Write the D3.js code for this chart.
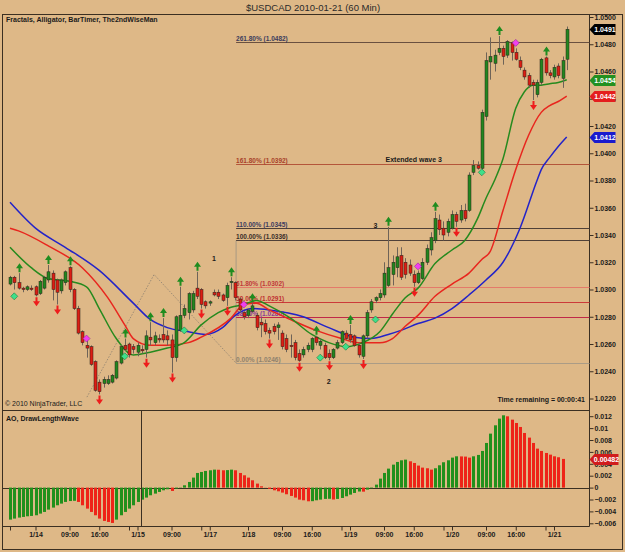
<!DOCTYPE html>
<html lang="en">
<head>
<meta charset="utf-8"/>
<title>$USDCAD 2010-01-21 (60 Min)</title>
<script src="https://cdnjs.cloudflare.com/ajax/libs/d3/7.8.5/d3.min.js"></script>
<style>
  body { margin: 0; background: #deb887; }
  svg { display: block; font-family: "Liberation Sans", Arial, sans-serif; }
  .ax text { font-size: 7px; font-weight: bold; fill: #1a1a1a; }
  .ax line { stroke: #3b2f22; }
  .lbl { font-size: 7px; font-weight: bold; fill: #1a1a1a; }
</style>
</head>
<body>
<svg id="chart" width="625" height="552"></svg>
<script>
// ---- price bars (60 min), one entry per bar ----
var opens = [1.0304,1.0309,1.0305,1.0301,1.0300,1.0301,1.0302,1.0297,1.0301,1.0307,
  1.0312,1.0307,1.0299,1.0305,1.0316,1.0300,1.0286,1.0269,1.0259,1.0258,
  1.0247,1.0232,1.0231,1.0231,1.0232,1.0235,1.0246,1.0259,1.0260,1.0258,
  1.0254,1.0256,1.0256,1.0265,1.0261,1.0264,1.0267,1.0266,1.0263,1.0250,
  1.0270,1.0281,1.0283,1.0285,1.0301,1.0300,1.0291,1.0290,1.0298,1.0298,
  1.0296,1.0294,1.0305,1.0305,1.0293,1.0283,1.0281,1.0284,1.0281,1.0276,
  1.0275,1.0270,1.0273,1.0272,1.0268,1.0264,1.0259,1.0261,1.0253,1.0252,
  1.0256,1.0256,1.0265,1.0259,1.0259,1.0253,1.0250,1.0257,1.0261,1.0268,
  1.0267,1.0266,1.0259,1.0251,1.0266,1.0285,1.0292,1.0294,1.0296,1.0303,
  1.0311,1.0316,1.0325,1.0320,1.0318,1.0311,1.0305,1.0308,1.0320,1.0329,
  1.0336,1.0351,1.0345,1.0342,1.0345,1.0355,1.0351,1.0358,1.0358,1.0386,
  1.0391,1.0389,1.0427,1.0467,1.0466,1.0474,1.0477,1.0472,1.0481,1.0474,
  1.0468,1.0461,1.0457,1.0452,1.0443,1.0452,1.0470,1.0459,1.0456,1.0464,
  1.0455,1.0469];
var highs = [1.0310,1.0310,1.0312,1.0302,1.0303,1.0303,1.0303,1.0307,1.0310,1.0318,
  1.0314,1.0308,1.0308,1.0314,1.0317,1.0301,1.0288,1.0270,1.0263,1.0259,
  1.0248,1.0234,1.0236,1.0237,1.0238,1.0248,1.0259,1.0264,1.0261,1.0260,
  1.0261,1.0259,1.0270,1.0276,1.0269,1.0267,1.0279,1.0270,1.0267,1.0281,
  1.0302,1.0289,1.0298,1.0299,1.0313,1.0301,1.0292,1.0292,1.0300,1.0300,
  1.0297,1.0305,1.0309,1.0306,1.0294,1.0284,1.0286,1.0290,1.0283,1.0279,
  1.0278,1.0272,1.0275,1.0276,1.0270,1.0267,1.0267,1.0263,1.0256,1.0258,
  1.0261,1.0265,1.0266,1.0264,1.0261,1.0256,1.0257,1.0263,1.0270,1.0270,
  1.0274,1.0267,1.0261,1.0267,1.0285,1.0293,1.0295,1.0300,1.0320,1.0346,
  1.0325,1.0331,1.0331,1.0323,1.0322,1.0314,1.0314,1.0323,1.0333,1.0342,
  1.0357,1.0355,1.0350,1.0352,1.0358,1.0357,1.0362,1.0363,1.0386,1.0395,
  1.0394,1.0432,1.0474,1.0485,1.0476,1.0486,1.0479,1.0483,1.0482,1.0477,
  1.0471,1.0463,1.0459,1.0454,1.0454,1.0470,1.0471,1.0461,1.0465,1.0466,
  1.0471,1.0493];
var lows = [1.0303,1.0300,1.0300,1.0298,1.0299,1.0299,1.0295,1.0296,1.0300,1.0305,
  1.0292,1.0289,1.0297,1.0303,1.0298,1.0285,1.0267,1.0259,1.0250,1.0244,
  1.0225,1.0223,1.0228,1.0230,1.0231,1.0234,1.0245,1.0255,1.0250,1.0253,
  1.0251,1.0253,1.0250,1.0259,1.0259,1.0261,1.0261,1.0259,1.0239,1.0247,
  1.0269,1.0279,1.0278,1.0283,1.0293,1.0286,1.0286,1.0288,1.0295,1.0293,
  1.0291,1.0288,1.0300,1.0292,1.0283,1.0278,1.0279,1.0283,1.0270,1.0265,
  1.0267,1.0264,1.0267,1.0263,1.0256,1.0254,1.0250,1.0248,1.0247,1.0250,
  1.0254,1.0254,1.0259,1.0256,1.0249,1.0248,1.0249,1.0256,1.0260,1.0263,
  1.0261,1.0258,1.0250,1.0249,1.0264,1.0283,1.0290,1.0292,1.0294,1.0302,
  1.0303,1.0309,1.0307,1.0308,1.0310,1.0302,1.0304,1.0307,1.0318,1.0325,
  1.0334,1.0340,1.0336,1.0339,1.0344,1.0346,1.0349,1.0350,1.0357,1.0384,
  1.0388,1.0388,1.0424,1.0454,1.0460,1.0472,1.0465,1.0470,1.0468,1.0468,
  1.0461,1.0454,1.0448,1.0439,1.0441,1.0450,1.0457,1.0455,1.0454,1.0455,
  1.0448,1.0461];
var closes = [1.0309,1.0305,1.0301,1.0300,1.0302,1.0300,1.0296,1.0306,1.0309,1.0313,
  1.0300,1.0298,1.0307,1.0313,1.0300,1.0286,1.0268,1.0261,1.0257,1.0245,
  1.0226,1.0225,1.0234,1.0234,1.0237,1.0247,1.0258,1.0256,1.0252,1.0256,
  1.0259,1.0255,1.0266,1.0263,1.0266,1.0263,1.0263,1.0263,1.0250,1.0280,
  1.0281,1.0286,1.0297,1.0297,1.0295,1.0289,1.0288,1.0291,1.0296,1.0295,
  1.0292,1.0303,1.0306,1.0294,1.0285,1.0280,1.0285,1.0288,1.0272,1.0274,
  1.0269,1.0268,1.0269,1.0274,1.0258,1.0256,1.0258,1.0250,1.0248,1.0256,
  1.0259,1.0264,1.0261,1.0262,1.0250,1.0250,1.0256,1.0261,1.0269,1.0264,
  1.0263,1.0259,1.0252,1.0266,1.0283,1.0291,1.0294,1.0297,1.0312,1.0316,
  1.0320,1.0324,1.0309,1.0311,1.0312,1.0305,1.0312,1.0320,1.0330,1.0338,
  1.0352,1.0344,1.0340,1.0350,1.0355,1.0350,1.0358,1.0352,1.0384,1.0391,
  1.0389,1.0430,1.0468,1.0471,1.0472,1.0477,1.0471,1.0482,1.0474,1.0469,
  1.0463,1.0456,1.0450,1.0450,1.0452,1.0469,1.0459,1.0457,1.0463,1.0457,
  1.0468,1.0491];

// ---- Alligator lines: [bar index, price] ----
var jaw = [[0,1.0364],[6,1.0345],[13,1.0331],[21,1.0314],[29,1.0290],[33,1.0278],[37,1.0272],
  [42,1.0269],[46,1.0267],[50,1.0272],[53,1.0281],[57,1.0286],[61,1.0285],[69,1.0280],
  [75,1.0272],[81,1.0265],[85,1.0264],[89,1.0267],[92,1.0270],[96,1.0275],[100,1.0279],
  [104,1.0286],[108,1.0296],[112,1.0307],[116,1.0320],[120,1.0345],[124,1.0380],
  [125,1.0388],[127,1.0397],[129,1.0405],[131,1.0412]];
var teeth = [[0,1.0345],[2,1.0343],[9,1.0332],[17,1.0316],[23,1.0294],[27,1.0274],[29,1.0264],
  [33,1.0259],[37,1.0259],[42,1.0261],[45,1.0265],[52,1.0279],[55,1.0289],[58,1.0290],
  [61,1.0285],[66,1.0278],[72,1.0270],[78,1.0264],[82,1.0261],[87,1.0261],[90,1.0264],
  [93,1.0273],[96,1.0281],[100,1.0295],[104,1.0304],[108,1.0312],[111,1.0322],
  [113,1.0328],[116,1.0358],[119,1.0388],[122,1.0413],[125,1.0430],[127,1.0435],
  [129,1.0438],[131,1.0442]];
var lips = [[0,1.0331],[5,1.0316],[9,1.0308],[14,1.0306],[18,1.0302],[21,1.0286],[25,1.0264],
  [29,1.0252],[33,1.0254],[37,1.0257],[41,1.0261],[45,1.0274],[49,1.0283],[52,1.0287],
  [55,1.0289],[58,1.0292],[61,1.0288],[66,1.0279],[71,1.0267],[75,1.0261],[79,1.0258],
  [83,1.0261],[87,1.0269],[90,1.0282],[93,1.0294],[96,1.0301],[100,1.0319],[104,1.0329],
  [107,1.0336],[110,1.0352],[112,1.0367],[114,1.0380],[116,1.0396],[119,1.0433],
  [121,1.0445],[123,1.0450],[125,1.0450],[127,1.0451],[129,1.0452],[131,1.0454]];

// ---- Fractals (bar indices) ----
var fractalUp = [2,9,14,27,33,36,40,44,52,57,72,80,89,100,115,126];
var fractalDown = [6,11,21,32,38,45,51,61,68,75,83,95,105,123];

// ---- The 2nd Wise Man markers: [bar index, price] ----
var wiseBull = [[1,1.0295],[27,1.0251],[41,1.0270],[73,1.0250],[79,1.0258],[86,1.0278],[111,1.0386]];
var wiseBear = [[18,1.0264],[55,1.0289],[96,1.0317],[119,1.0481]];

// ---- drawing objects ----
var fibLevels = ['261.80%','161.80%','110.00%','100.00%','61.80%','50.00%','38.20%','0.00%'];
var fibPrices = [1.0482,1.0392,1.0345,1.0336,1.0302,1.0291,1.0280,1.0246];
var zigzag = [[18.1,1.0221],[33.9,1.0311],[53.2,1.0246]];
var waveTexts = ['1','2','3','Extended wave 3'];
var waveIdx = [48,75,86,95];
var wavePrice = [1.0323,1.0233,1.0347,1.0396];

// ---- AO histogram ----
var ao = [-0.00538,-0.00521,-0.00504,-0.00493,-0.00482,-0.00476,-0.00465,-0.00437,-0.00409,-0.00370,
  -0.00336,-0.00297,-0.00269,-0.00241,-0.00226,-0.00222,-0.00241,-0.00297,-0.00353,-0.00409,
  -0.00465,-0.00521,-0.00560,-0.00577,-0.00594,-0.00538,-0.00465,-0.00409,-0.00353,-0.00297,
  -0.00241,-0.00202,-0.00168,-0.00129,-0.00101,-0.00073,-0.00045,-0.00028,-0.00056,-0.00017,
  -0.00005,0.00039,0.00095,0.00168,0.00246,0.00263,0.00280,0.00291,0.00302,0.00300,
  0.00291,0.00294,0.00302,0.00291,0.00246,0.00207,0.00168,0.00123,0.00067,0.00022,
  -0.00003,-0.00022,-0.00045,-0.00062,-0.00084,-0.00112,-0.00140,-0.00168,-0.00202,-0.00213,
  -0.00230,-0.00228,-0.00213,-0.00202,-0.00190,-0.00188,-0.00200,-0.00190,-0.00174,-0.00146,
  -0.00118,-0.00090,-0.00066,-0.00068,-0.00034,-0.00011,0.00050,0.00151,0.00246,0.00319,
  0.00386,0.00431,0.00459,0.00470,0.00442,0.00414,0.00370,0.00336,0.00325,0.00302,
  0.00325,0.00375,0.00426,0.00459,0.00504,0.00526,0.00524,0.00521,0.00504,0.00526,
  0.00549,0.00616,0.00750,0.00907,0.01047,0.01159,0.01215,0.01198,0.01142,0.01086,
  0.01019,0.00918,0.00840,0.00750,0.00655,0.00616,0.00582,0.00554,0.00526,0.00510,
  0.00482];

// ---- axes ----
var priceTicks = [1.0220,1.0240,1.0260,1.0280,1.0300,1.0320,1.0340,1.0360,1.0380,1.0400,1.0420,1.0440,1.0460,1.0480,1.0500];
var aoTicks = [0.012,0.01,0.008,0.006,0.004,0.002,0,-0.002,-0.004,-0.006];
var timeTickIdx = [0,6,14,21,28,30,38,45,47,56,64,71,78,80,88,95,102,104,112,119,126,128];
var timeTickLabels = ['','1/14','09:00','16:00','','1/15','09:00','','1/17','1/18','09:00','16:00','','1/19','09:00','16:00','','1/20','09:00','16:00','','1/21'];

var svg = d3.select('#chart');
var frame = '#3b2f22';
var axisX = 589.5;

var x = d3.scaleLinear().domain([0, 131]).range([10, 566.75]);
var yP = d3.scaleLinear().domain([1.0220, 1.0500]).range([398.5, 17]);
var yA = d3.scaleLinear().domain([-0.006, 0.012]).range([523.3, 416.2]);

svg.append('rect').attr('width', 625).attr('height', 552).attr('fill', '#deb887');

svg.append('text').attr('x', 313).attr('y', 11).attr('text-anchor', 'middle')
  .style('font-size', '9.5px').style('fill', '#2a2a2a').text('$USDCAD  2010-01-21 (60 Min)');

// frame
svg.append('rect').attr('x', 2.5).attr('y', 14.5).attr('width', 620).attr('height', 535)
  .attr('fill', 'none').attr('stroke', frame);
svg.append('line').attr('x1', 3).attr('x2', axisX).attr('y1', 410.5).attr('y2', 410.5).attr('stroke', frame);
svg.append('line').attr('x1', 3).attr('x2', axisX).attr('y1', 526.5).attr('y2', 526.5).attr('stroke', frame);
svg.append('line').attr('x1', axisX).attr('x2', axisX).attr('y1', 14.5).attr('y2', 526.5).attr('stroke', frame);

// fib drawing
var fibLine = ['#6a5040','#b4553a','#4f4038','#4f4038','#e47a6a','#cc3a3a','#c02848','#ab9c86'];
var fibText = ['#3c3c5c','#a8422a','#3c3c60','#3a2e2a','#c03a3a','#c03030','#8a3a9a','#8f826e'];
var fibX = x(zigzag[2][0]);
svg.append('line').attr('x1', fibX).attr('x2', fibX)
  .attr('y1', yP(fibPrices[3])).attr('y2', yP(fibPrices[7])).attr('stroke', '#a89a84');
fibPrices.forEach(function(p, k) {
  var yy = Math.round(yP(p)) + 0.5;
  svg.append('line').attr('x1', fibX).attr('x2', axisX).attr('y1', yy).attr('y2', yy)
    .attr('stroke', fibLine[k]).attr('stroke-width', 1);
  svg.append('text').attr('x', fibX).attr('y', yy - 2).attr('class', 'lbl')
    .style('fill', fibText[k]).style('font-size', '6.5px')
    .text(fibLevels[k] + ' (' + p.toFixed(4) + ')');
});

// zigzag wave line
svg.append('path').datum(zigzag)
  .attr('d', d3.line().x(function(d){ return x(d[0]); }).y(function(d){ return yP(d[1]); }))
  .attr('fill', 'none').attr('stroke', '#8a7f70').attr('stroke-width', 0.8)
  .attr('stroke-dasharray', '1.5,1.5');

// alligator
var lineGen = d3.line().x(function(d){ return x(d[0]); }).y(function(d){ return yP(d[1]); })
  .curve(d3.curveMonotoneX);
[[jaw, '#2323c8'], [teeth, '#e8261e'], [lips, '#268a1e']].forEach(function(s) {
  svg.append('path').datum(s[0]).attr('d', lineGen).attr('fill', 'none')
    .attr('stroke', s[1]).attr('stroke-width', 1.5);
});

// candles
var bars = d3.range(opens.length).map(function(i) {
  return { i: i, o: opens[i], h: highs[i], l: lows[i], c: closes[i] };
});
var cg = svg.append('g');
cg.selectAll('line').data(bars).enter().append('line')
  .attr('x1', function(d){ return Math.round(x(d.i)) + 0.5; })
  .attr('x2', function(d){ return Math.round(x(d.i)) + 0.5; })
  .attr('y1', function(d){ return yP(d.h); })
  .attr('y2', function(d){ return yP(d.l); })
  .attr('stroke', '#6e6358').attr('stroke-width', 1);
cg.selectAll('rect').data(bars).enter().append('rect')
  .attr('x', function(d){ return Math.round(x(d.i)) - 1; })
  .attr('width', 3)
  .attr('y', function(d){ return Math.min(yP(d.o), yP(d.c)); })
  .attr('height', function(d){ return Math.max(1, Math.abs(yP(d.o) - yP(d.c))); })
  .attr('fill', function(d){ return d.c >= d.o ? '#23861f' : '#dc1e14'; })
  .attr('stroke', '#2a2018').attr('stroke-width', 0.5);

// fractal arrows
fractalUp.forEach(function(i) {
  var cx = Math.round(x(i)) + 0.5, t = yP(highs[i]) - 10;
  svg.append('path').attr('d', 'M' + cx + ',' + t + 'l3.5,5h-2.5v4h-2v-4h-2.5z').attr('fill', '#1f8c1f');
});
fractalDown.forEach(function(i) {
  var cx = Math.round(x(i)) + 0.5, t = yP(lows[i]) + 10;
  svg.append('path').attr('d', 'M' + cx + ',' + t + 'l3.5,-5h-2.5v-4h-2v4h-2.5z').attr('fill', '#ee1c1c');
});

// 2nd wise man diamonds
function diamond(d, fill, stroke) {
  var cx = x(d[0]), cy = yP(d[1]);
  svg.append('path').attr('d', 'M' + cx + ',' + (cy - 3.5) + 'l3.5,3.5l-3.5,3.5l-3.5,-3.5z')
    .attr('fill', fill).attr('stroke', stroke).attr('stroke-width', 0.6);
}
wiseBull.forEach(function(d){ diamond(d, '#3ee08a', '#1d7a40'); });
wiseBear.forEach(function(d){ diamond(d, '#f040f0', '#9a209a'); });

// wave labels
waveTexts.forEach(function(t, k) {
  svg.append('text').attr('x', x(waveIdx[k])).attr('y', yP(wavePrice[k]) + 3)
    .attr('text-anchor', 'middle').attr('class', 'lbl').text(t);
});

// price axis
var pAxis = svg.append('g').attr('class', 'ax').attr('transform', 'translate(' + axisX + ',0)')
  .call(d3.axisRight(yP).tickValues(priceTicks).tickSize(4).tickPadding(1)
    .tickFormat(d3.format('.4f')));
pAxis.select('.domain').remove();

// AO panel
var aoBars = ao.map(function(v, i) {
  return { i: i, v: v, up: i === 0 || v >= ao[i - 1] };
});
svg.append('line').attr('x1', 3).attr('x2', axisX).attr('y1', Math.round(yA(0)) + 0.5)
  .attr('y2', Math.round(yA(0)) + 0.5).attr('stroke', frame);
svg.append('g').selectAll('rect').data(aoBars).enter().append('rect')
  .attr('x', function(d){ return Math.round(x(d.i)) - 1; })
  .attr('width', 3)
  .attr('y', function(d){ return Math.min(yA(d.v), yA(0)); })
  .attr('height', function(d){ return Math.abs(yA(d.v) - yA(0)); })
  .attr('fill', function(d){ return d.up ? '#22901c' : '#ee2418'; });
svg.append('line').attr('x1', 141.5).attr('x2', 141.5).attr('y1', 411).attr('y2', 526)
  .attr('stroke', frame);

var aAxis = svg.append('g').attr('class', 'ax').attr('transform', 'translate(' + axisX + ',0)')
  .call(d3.axisRight(yA).tickValues(aoTicks).tickSize(4).tickPadding(1)
    .tickFormat(function(d){ return d3.format('~g')(d); }));
aAxis.select('.domain').remove();

// time axis
var tAxis = svg.append('g').attr('class', 'ax').attr('transform', 'translate(0,526.5)')
  .call(d3.axisBottom(x).tickValues(timeTickIdx).tickSize(4).tickPadding(2)
    .tickFormat(function(d, k){ return timeTickLabels[k]; }));
tAxis.select('.domain').remove();

// current value markers
function valueBox(v, yy, txt, fill, w) {
  var yv = Math.round(yy) + 0.5;
  svg.append('path')
    .attr('d', 'M' + axisX + ',' + yv + 'l5,-5.5h' + w + 'v11h-' + w + 'z')
    .attr('fill', fill);
  svg.append('text').attr('x', axisX + 5 + w / 2).attr('y', yv + 2.5).attr('text-anchor', 'middle')
    .style('font-size', '7px').style('font-weight', 'bold').style('fill', '#fff').text(txt);
}
var lastClose = closes[closes.length - 1];
valueBox(lastClose, yP(lastClose), lastClose.toFixed(4), '#000', 21);
[[lips, '#239020'], [teeth, '#e41e1e'], [jaw, '#1a1acd']].forEach(function(s) {
  var v = s[0][s[0].length - 1][1];
  valueBox(v, yP(v), v.toFixed(4), s[1], 21);
});
var lastAo = ao[ao.length - 1];
valueBox(lastAo, yA(lastAo), lastAo.toFixed(5), '#d01c1c', 24);

// captions
svg.append('text').attr('x', 6).attr('y', 22).attr('class', 'lbl').text('Fractals, Alligator, BarTimer, The2ndWiseMan');
svg.append('text').attr('x', 6).attr('y', 421).attr('class', 'lbl').text('AO, DrawLengthWave');
svg.append('text').attr('x', 5).attr('y', 406).attr('class', 'lbl').style('font-weight', 'normal')
  .text('\u00a9 2010 NinjaTrader, LLC');
svg.append('text').attr('x', 585).attr('y', 402).attr('text-anchor', 'end').attr('class', 'lbl')
  .text('Time remaining = 00:00:41');
</script>
</body>
</html>
